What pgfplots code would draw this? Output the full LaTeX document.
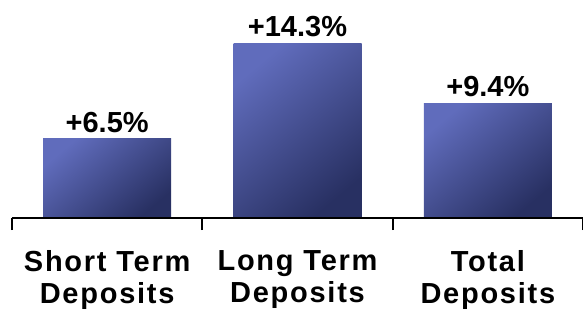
\documentclass[border=0pt]{standalone}
\usepackage{pgfplots}
\pgfplotsset{compat=1.18}
\usepackage{fontspec}
\setmainfont{Liberation Sans}
\newfontfamily\labfont[LetterSpace=6]{Liberation Sans}
\definecolor{barlight}{RGB}{96,108,188}
\definecolor{bardark}{RGB}{40,48,98}
\begin{document}
\begin{tikzpicture}[x=1pt,y=1pt]
\useasboundingbox (0,0) rectangle (583,318);
\begin{axis}[
  at={(12pt,100pt)}, anchor=south west,
  width=571pt, height=218pt, scale only axis,
  xmin=-0.5, xmax=2.5, ymin=0, ymax=17.9,
  axis x line*=bottom, axis y line=none,
  axis on top,
  x axis line style={line width=1.6pt, black},
  xtick={0,1,2},
  xticklabels={{Short Term\\Deposits},{Long Term\\Deposits},{Total\\Deposits}},
  major tick length=0pt,
  minor xtick={-0.5,0.5,1.5,2.5},
  minor tick length=12pt,
  tick align=outside,
  minor tick style={line width=2pt, black},
  xticklabel style={align=center, font=\labfont\fontsize{29}{32}\selectfont\bfseries, yshift=-29pt},
  ybar, bar width=128pt, bar shift=0pt,
  nodes near coords, point meta=explicit symbolic,
  every node near coord/.append style={font=\fontsize{29}{34}\selectfont\bfseries, text=black, yshift=3pt},
  barstyle/.style={ybar, draw=none, top color=barlight, bottom color=bardark, shading angle=40},
]
\addplot[barstyle] coordinates {(0,6.5)[+6.5\%]};
\addplot[barstyle] coordinates {(1,14.3)[+14.3\%]};
\addplot[barstyle] coordinates {(2,9.4)[+9.4\%]};
\end{axis}
\end{tikzpicture}
\end{document}
